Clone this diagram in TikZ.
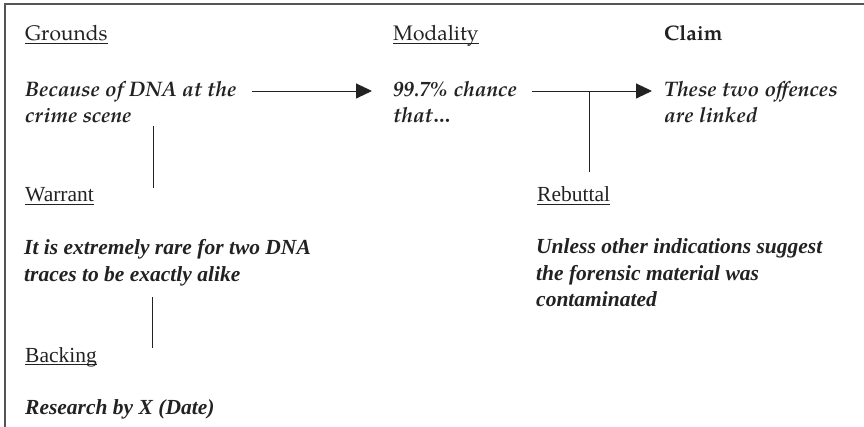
\documentclass[tikz,border=0pt]{standalone}
\usepackage{fontspec}
\setmainfont{Liberation Serif}
\newfontfamily\pal{texgyrepagella}[Extension=.otf,UprightFont=*-regular,BoldFont=*-bold,ItalicFont=*-italic,BoldItalicFont=*-bolditalic]
\usetikzlibrary{arrows.meta}
\newsavebox\ulbox
\newcommand\ulx[1]{\sbox\ulbox{#1}\rlap{\rule[-3pt]{\wd\ulbox}{0.8pt}}\usebox\ulbox}
\newcommand\blk[2]{\vtop{\baselineskip=#1pt\halign{##\hfil\cr#2\crcr}}}
\definecolor{ink}{HTML}{222222}
\definecolor{framec}{HTML}{555555}
\begin{document}
\begin{tikzpicture}[x=1pt,y={(0pt,-1pt)},
  every node/.style={inner sep=0pt, anchor=base west, text=ink},
  pallab/.style={font=\pal\fontsize{21}{24}\selectfont},
  timlab/.style={font=\fontsize{21.5}{24}\selectfont},
  palbi/.style={font=\pal\bfseries\itshape\fontsize{21}{24}\selectfont},
  timbi/.style={font=\bfseries\itshape\fontsize{21.5}{24}\selectfont},
  conn/.style={draw=ink, line width=0.9pt},
  arr/.style={conn, -{Triangle[length=16pt,width=15pt]}},
  framel/.style={draw=framec, line width=1.4pt}]
\useasboundingbox (0,0) rectangle (864,427);
\draw[framel] (5,428) -- (5,4) -- (865,4);

% labels
\node[pallab] (lg) at (25,41) {\ulx{Grounds}};
\node[pallab] (lm) at (393,41) {\ulx{Modality}};
\node[pallab, font=\pal\bfseries\fontsize{21}{24}\selectfont] (lc) at (664,41) {Claim};
\node[timlab] (lw) at (25,202) {\ulx{Warrant}};
\node[timlab] (lr) at (537,202) {\ulx{Rebuttal}};
\node[timlab] (lb) at (25,362) {\ulx{Backing}};

% texts
\node[palbi] (g) at (25,97) {\blk{26}{Because of DNA at the\cr crime scene}};
\node[palbi] (m) at (393,97) {\blk{26}{99.7\% chance\cr that\dots}};
\node[palbi] (c) at (664,97) {\blk{26}{These two offences\cr are linked}};
\node[timbi] (w) at (24,255) {\blk{27}{It is extremely rare for two DNA\cr traces to be exactly alike}};
\node[timbi] (r) at (536,254) {\blk{26.5}{Unless other indications suggest\cr the forensic material was\cr contaminated}};
\node[timbi] (b) at (25,414) {Research by X (Date)};

% connectors
\coordinate (a1s) at (252,91);
\coordinate (a1e) at (372,91);
\coordinate (a2s) at (532,91);
\coordinate (a2e) at (652,91);
\coordinate (rj) at (589,91);
\coordinate (rb) at (589,172);
\coordinate (gw1) at (153,126);
\coordinate (gw2) at (153,188);
\coordinate (wb1) at (152,297);
\coordinate (wb2) at (152,348);
\draw[arr] (a1s) -- (a1e);
\draw[arr] (a2s) -- (a2e);
\draw[conn] (rj) -- (rb);
\draw[conn] (gw1) -- (gw2);
\draw[conn] (wb1) -- (wb2);
\end{tikzpicture}
\end{document}
